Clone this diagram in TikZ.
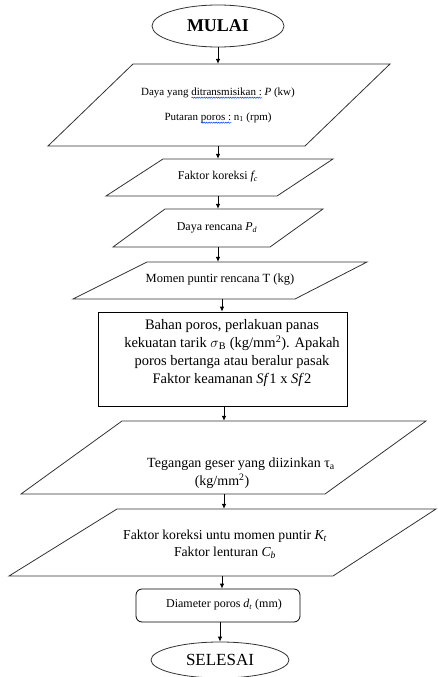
\documentclass[tikz,border=0pt]{standalone}
\usepackage{fontspec}
\setmainfont{Liberation Serif}
\usetikzlibrary{arrows.meta,fit,shapes.geometric,decorations.pathmorphing}
\newsavebox\wvbox
\newdimen\wvw
\newcommand\wv[1]{\sbox\wvbox{#1}\wvw=\wd\wvbox\rlap{\tikz[baseline=0pt]\draw[blue!75!cyan, line width=0.5pt, decorate, decoration={snake, amplitude=0.6pt, segment length=2.4pt}] (0pt,-2.6pt) -- (\wvw,-2.6pt);}\usebox\wvbox}
\newcommand\fsz[2]{\fontsize{#1}{#2}\selectfont}
\newcommand\mypara[7]{% name, tlx, trx, blx, brx, topy, boty
  \draw[shp] (#2,#6) -- (#3,#6) -- (#5,#7) -- (#4,#7) -- cycle;
  \coordinate (#1-a) at (#4,#6);
  \coordinate (#1-b) at (#3,#7);
  \node[fit=(#1-a)(#1-b), inner sep=0pt] (#1) {};}
\tikzset{
  shp/.style={draw=black!80, line width=0.8pt},
  arr/.style={draw=black, line width=0.8pt, -{Latex[length=5pt,width=4.5pt]}},
  txt/.style={inner sep=0pt, align=center, text=black}
}
\begin{document}
\begin{tikzpicture}[x=1pt,y=-1pt]
\useasboundingbox[fill=white] (0,0) rectangle (437,677);

% start
\node[ellipse, shp, minimum width=132pt, minimum height=42pt, inner sep=0pt, font=\fsz{18}{20}\bfseries] (start) at (218,26) {MULAI};

% P1
\mypara{p1}{133}{390}{48}{305}{64}{146}
\node[txt, font=\fsz{11}{13}] (t1a) at (218,93) {Daya yang \wv{ditransmisikan :} \textit{P} (kw)};
\node[txt, font=\fsz{11}{13}] (t1b) at (218,118) {Putaran \wv{poros :} n\textsubscript{1} (rpm)};

% P2
\mypara{p2}{163}{333}{106}{277}{159}{196}
\node[txt, font=\fsz{12}{14}] (t2) at (218,177) {Faktor koreksi \textit{f\textsubscript{c}}};

% P3
\mypara{p3}{165}{323}{113}{270}{209}{247}
\node[txt, font=\fsz{12}{14}] (t3) at (217,228) {Daya rencana \textit{P\textsubscript{d}}};

% P4
\mypara{p4}{147}{367}{73}{295}{262}{299}
\node[txt, font=\fsz{12.5}{14}] (t4) at (220,280) {Momen puntir rencana T (kg)};

% rectangle
\node[shp, draw=black, minimum width=249pt, minimum height=94pt, inner sep=0pt] (r5) at (222.5,359) {};
\node[txt, font=\fsz{14.5}{18}] (t5) at (232,353) {Bahan poros, perlakuan panas\\
kekuatan tarik $\sigma$\textsubscript{B} (kg/mm\textsuperscript{2}). Apakah\\
poros bertanga atau beralur pasak\\
Faktor keamanan \textit{Sf}1 x \textit{Sf}2};

% P5
\mypara{p6}{122}{426}{21}{325}{421}{494}
\node[txt, font=\fsz{14}{16}] (t6a) at (241,464) {Tegangan geser yang diizinkan τ\textsubscript{a}};
\node[txt, font=\fsz{14}{16}] (t6b) at (222,481) {(kg/mm\textsuperscript{2})};

% P6
\mypara{p7}{117}{436}{9}{333}{509}{576}
\node[txt, font=\fsz{13.7}{17}] (t7) at (225,544) {Faktor koreksi untu momen puntir \textit{K\textsubscript{t}}\\
Faktor lenturan \textit{C\textsubscript{b}}};

% diameter
\node[shp, draw=black, rounded corners=6pt, minimum width=164pt, minimum height=33pt, inner sep=0pt] (r8) at (218,605.5) {};
\node[txt, font=\fsz{12}{14}] (t8) at (224,605) {Diameter poros \textit{d\textsubscript{t}} (mm)};

% end
\node[ellipse, shp, minimum width=138pt, minimum height=36pt, inner sep=0pt, font=\fsz{17}{19}] (stop) at (220,660) {SELESAI};

% arrows
\coordinate (x1) at (218,0);
\coordinate (x2) at (222,0);
\coordinate (x3) at (224,0);
\coordinate (x4) at (222,0);
\coordinate (x5) at (220,0);
\draw[arr] (start.south -| x1) -- (p1.north -| x1);
\draw[arr] (p1.south -| x1) -- (p2.north -| x1);
\draw[arr] (p2.south -| x1) -- (p3.north -| x1);
\draw[arr] (p3.south -| x1) -- (p4.north -| x1);
\draw[arr] (p4.south -| x2) -- (r5.north -| x2);
\draw[arr] (r5.south -| x3) -- (p6.north -| x3);
\draw[arr] (p6.south -| x3) -- (p7.north -| x3);
\draw[arr] (p7.south -| x4) -- (r8.north -| x4);
\draw[arr] (r8.south -| x5) -- (stop.north);
\end{tikzpicture}
\end{document}
